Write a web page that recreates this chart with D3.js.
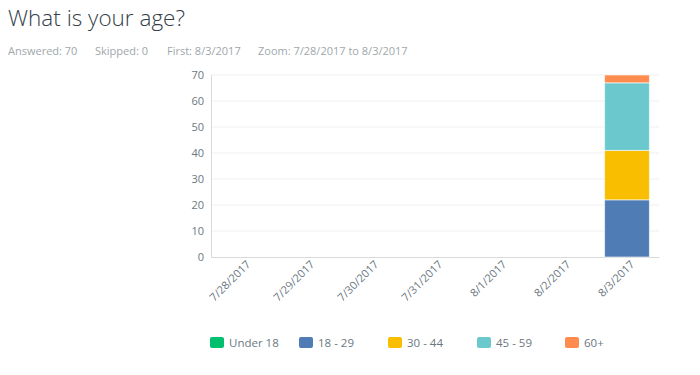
<!DOCTYPE html>
<html>
<head>
<meta charset="utf-8">
<script src="https://cdn.jsdelivr.net/npm/d3@7"></script>
<style>
  body { margin: 0; background: #fff; font-family: "Open Sans", "Noto Sans", sans-serif; }
  svg { display: block; }
</style>
</head>
<body>
<svg></svg>
<script>
var dates = ["7/28/2017", "7/29/2017", "7/30/2017", "7/31/2017", "8/1/2017", "8/2/2017", "8/3/2017"];
var groups = ["Under 18", "18 - 29", "30 - 44", "45 - 59", "60+"];
var colors = ["#00bf6f", "#507cb6", "#f9be00", "#6bc8cd", "#ff8b4f"];
var under18 = [0, 0, 0, 0, 0, 0, 0];
var age18to29 = [0, 0, 0, 0, 0, 0, 22];
var age30to44 = [0, 0, 0, 0, 0, 0, 19];
var age45to59 = [0, 0, 0, 0, 0, 0, 26];
var age60plus = [0, 0, 0, 0, 0, 0, 3];
var yTicks = [0, 10, 20, 30, 40, 50, 60, 70];

var width = 700, height = 375;
var margin = {top: 75, left: 211, bottom: 118, right: 41};
var w = width - margin.left - margin.right;
var h = height - margin.top - margin.bottom;

var svg = d3.select("svg")
  .attr("width", width)
  .attr("height", height);

// header
svg.append("text")
  .attr("x", 8).attr("y", 26)
  .attr("font-size", 22.5).attr("font-weight", 300)
  .attr("fill", "#333e48")
  .text("What is your age?");

var stats = [["Answered: 70", 8], ["Skipped: 0", 95], ["First: 8/3/2017", 167], ["Zoom: 7/28/2017 to 8/3/2017", 258]];
svg.selectAll(".stat").data(stats).enter().append("text")
  .attr("class", "stat")
  .attr("x", function(d) { return d[1]; }).attr("y", 55)
  .attr("font-size", 11).attr("fill", "#a0a7ab")
  .text(function(d) { return d[0]; });

var g = svg.append("g")
  .attr("transform", "translate(" + margin.left + "," + margin.top + ")");

var x = d3.scaleBand().domain(dates).range([0, w]).paddingInner(0.3).paddingOuter(0.15);
var y = d3.scaleLinear().domain([0, 70]).range([h, 0]);

// grid
g.selectAll(".grid").data(yTicks.slice(1)).enter().append("line")
  .attr("x1", 0).attr("x2", w)
  .attr("y1", function(d) { return y(d); }).attr("y2", function(d) { return y(d); })
  .attr("stroke", "#efefef");

var yAxis = g.append("g")
  .call(d3.axisLeft(y).tickValues(yTicks).tickSize(0).tickPadding(7));
yAxis.select(".domain").attr("stroke", "#d9d9d9");
yAxis.selectAll("text").attr("font-size", 11).attr("fill", "#6b787f")
  .attr("font-family", "Open Sans, sans-serif");

var xAxis = g.append("g")
  .attr("transform", "translate(0," + h + ")")
  .call(d3.axisBottom(x).tickSize(0).tickPadding(6));
xAxis.select(".domain").attr("stroke", "#d9d9d9");
xAxis.selectAll("text")
  .attr("font-size", 11).attr("fill", "#6b787f")
  .attr("font-family", "Open Sans, sans-serif")
  .attr("text-anchor", "end")
  .attr("dy", "0.5em")
  .attr("transform", "rotate(-45)");

// stacked bars
var rows = dates.map(function(d, i) {
  return {date: d, "Under 18": under18[i], "18 - 29": age18to29[i], "30 - 44": age30to44[i], "45 - 59": age45to59[i], "60+": age60plus[i]};
});
var stack = d3.stack().keys(groups)(rows);

g.selectAll(".layer").data(stack).enter().append("g")
  .attr("fill", function(d, i) { return colors[i]; })
  .selectAll("rect").data(function(d) { return d.filter(function(p) { return p[1] > p[0]; }); })
  .enter().append("rect")
  .attr("x", function(d) { return x(d.data.date); })
  .attr("width", x.bandwidth())
  .attr("y", function(d) { return y(d[1]); })
  .attr("height", function(d) { return y(d[0]) - y(d[1]); })
  .attr("stroke", "#ffffff")
  .attr("stroke-opacity", 0.6)
  .attr("stroke-width", 1);

// legend
var legendX = [210, 299, 388, 477, 565];
var legend = svg.selectAll(".legend").data(groups).enter().append("g")
  .attr("transform", function(d, i) { return "translate(" + legendX[i] + ",337)"; });
legend.append("rect")
  .attr("width", 14).attr("height", 11).attr("rx", 2)
  .attr("fill", function(d, i) { return colors[i]; });
legend.append("text")
  .attr("x", 19).attr("y", 10)
  .attr("font-size", 11.5).attr("fill", "#6b787f")
  .text(function(d) { return d; });
</script>
</body>
</html>
